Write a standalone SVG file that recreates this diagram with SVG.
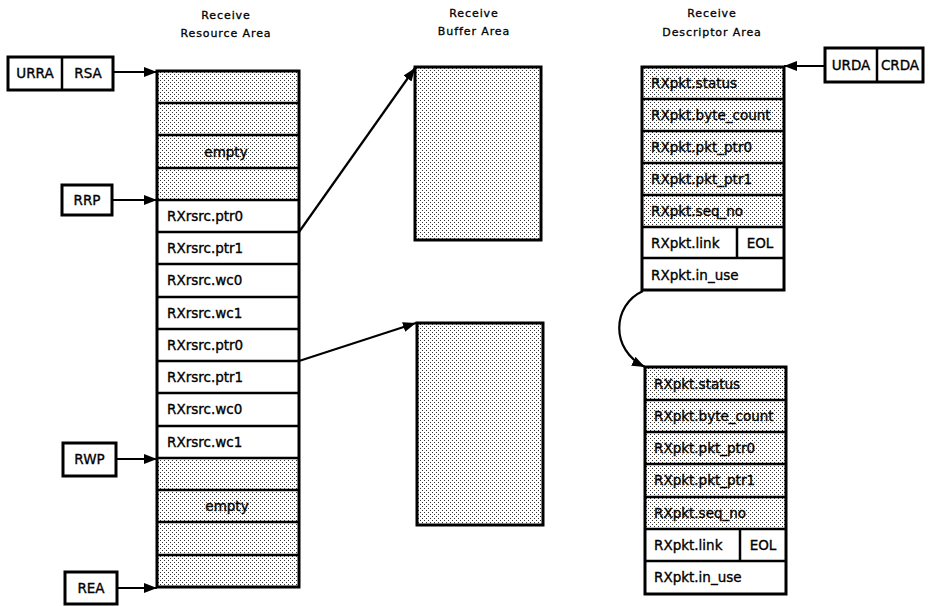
<svg xmlns="http://www.w3.org/2000/svg" width="931" height="606" viewBox="0 0 931 606">
<defs>
<pattern id="dots" width="4" height="4" patternUnits="userSpaceOnUse">
<rect width="4" height="4" fill="#fff"/>
<rect x="0" y="0" width="1" height="1" fill="#333"/>
<rect x="2" y="2" width="1" height="1" fill="#333"/>
</pattern>
<marker id="ah" markerWidth="13" markerHeight="10" refX="13" refY="5" orient="auto" markerUnits="userSpaceOnUse">
<path d="M0,0 L13,5 L0,10 z" fill="#000"/>
</marker>
</defs>
<style>
.box{fill:none;stroke:#000;stroke-width:3}
.div{stroke:#000;stroke-width:2.5}
.sh{fill:url(#dots)}
.wh{fill:#fff}
.lbl{font-family:"DejaVu Sans","Liberation Sans",sans-serif;font-size:13.5px;fill:#000;stroke:#000;stroke-width:0.35}
.mid{text-anchor:middle}
.hd{font-family:"DejaVu Sans","Liberation Sans",sans-serif;font-size:11px;letter-spacing:0.9px;fill:#000;stroke:#000;stroke-width:0.3;text-anchor:middle}
.con{fill:none;stroke:#000;stroke-width:2.2;marker-end:url(#ah)}
.reg{fill:#fff;stroke:#000;stroke-width:3}
</style>
<rect width="931" height="606" fill="#fff"/>

<g id="headings">
<text class="hd" x="226" y="19">Receive</text>
<text class="hd" x="226" y="37">Resource Area</text>
<text class="hd" x="474" y="17">Receive</text>
<text class="hd" x="474" y="35">Buffer Area</text>
<text class="hd" x="712" y="17">Receive</text>
<text class="hd" x="712" y="36">Descriptor Area</text>
</g>

<g id="urra-rsa">
<rect class="reg" x="8" y="57" width="105" height="33"/>
<line class="div" x1="62" y1="57" x2="62" y2="90"/>
<text class="lbl mid" x="35" y="78">URRA</text>
<text class="lbl mid" x="88" y="78">RSA</text>
</g>
<g id="rrp">
<rect class="reg" x="62" y="185" width="50" height="30"/>
<text class="lbl mid" x="87" y="205">RRP</text>
</g>
<g id="rwp">
<rect class="reg" x="63" y="443" width="53" height="33"/>
<text class="lbl mid" x="89.5" y="464">RWP</text>
</g>
<g id="rea">
<rect class="reg" x="65" y="572" width="52" height="32"/>
<text class="lbl mid" x="91" y="593">REA</text>
</g>

<g id="resource-area">
<rect class="sh" x="157" y="71" width="142" height="129"/>
<rect class="wh" x="157" y="200" width="142" height="258"/>
<rect class="sh" x="157" y="458" width="142" height="129"/>
<line class="div" x1="157" y1="103" x2="299" y2="103"/>
<line class="div" x1="157" y1="135" x2="299" y2="135"/>
<line class="div" x1="157" y1="168" x2="299" y2="168"/>
<line class="div" x1="157" y1="200" x2="299" y2="200"/>
<line class="div" x1="157" y1="232" x2="299" y2="232"/>
<line class="div" x1="157" y1="264" x2="299" y2="264"/>
<line class="div" x1="157" y1="297" x2="299" y2="297"/>
<line class="div" x1="157" y1="329" x2="299" y2="329"/>
<line class="div" x1="157" y1="361" x2="299" y2="361"/>
<line class="div" x1="157" y1="393" x2="299" y2="393"/>
<line class="div" x1="157" y1="426" x2="299" y2="426"/>
<line class="div" x1="157" y1="458" x2="299" y2="458"/>
<line class="div" x1="157" y1="490" x2="299" y2="490"/>
<line class="div" x1="157" y1="522" x2="299" y2="522"/>
<line class="div" x1="157" y1="555" x2="299" y2="555"/>
<rect class="box" x="157" y="71" width="142" height="516"/>
<text class="lbl mid" x="226" y="157">empty</text>
<text class="lbl" x="167" y="221">RXrsrc.ptr0</text>
<text class="lbl" x="167" y="253">RXrsrc.ptr1</text>
<text class="lbl" x="167" y="285">RXrsrc.wc0</text>
<text class="lbl" x="167" y="318">RXrsrc.wc1</text>
<text class="lbl" x="167" y="350">RXrsrc.ptr0</text>
<text class="lbl" x="167" y="382">RXrsrc.ptr1</text>
<text class="lbl" x="167" y="414">RXrsrc.wc0</text>
<text class="lbl" x="167" y="447">RXrsrc.wc1</text>
<text class="lbl mid" x="227" y="511">empty</text>
</g>

<g id="buffer1">
<rect class="box" x="415" y="67" width="126" height="173" style="fill:url(#dots)"/>
</g>
<g id="buffer2">
<rect class="box" x="417" y="323" width="126" height="202" style="fill:url(#dots)"/>
</g>

<g id="descriptor1">
<rect class="sh" x="642" y="67" width="142" height="160"/>
<rect class="wh" x="642" y="227" width="142" height="63"/>
<line class="div" x1="642" y1="99" x2="784" y2="99"/>
<line class="div" x1="642" y1="131" x2="784" y2="131"/>
<line class="div" x1="642" y1="163" x2="784" y2="163"/>
<line class="div" x1="642" y1="195" x2="784" y2="195"/>
<line class="div" x1="642" y1="227" x2="784" y2="227"/>
<line class="div" x1="642" y1="258" x2="784" y2="258"/>
<line class="div" x1="737" y1="227" x2="737" y2="258"/>
<rect class="box" x="642" y="67" width="142" height="223"/>
<text class="lbl" x="651" y="88">RXpkt.status</text>
<text class="lbl" x="651" y="120">RXpkt.byte_count</text>
<text class="lbl" x="651" y="152">RXpkt.pkt_ptr0</text>
<text class="lbl" x="651" y="184">RXpkt.pkt_ptr1</text>
<text class="lbl" x="651" y="216">RXpkt.seq_no</text>
<text class="lbl" x="651" y="248">RXpkt.link</text>
<text class="lbl mid" x="760" y="248">EOL</text>
<text class="lbl" x="651" y="280">RXpkt.in_use</text>
</g>

<g id="urda-crda">
<rect class="reg" x="825" y="48" width="98" height="34"/>
<line class="div" x1="877" y1="48" x2="877" y2="82"/>
<text class="lbl mid" x="851" y="70">URDA</text>
<text class="lbl mid" x="900" y="70">CRDA</text>
</g>

<g id="descriptor2">
<rect class="sh" x="645" y="367" width="141" height="162"/>
<rect class="wh" x="645" y="529" width="141" height="65"/>
<line class="div" x1="645" y1="400" x2="786" y2="400"/>
<line class="div" x1="645" y1="432" x2="786" y2="432"/>
<line class="div" x1="645" y1="464" x2="786" y2="464"/>
<line class="div" x1="645" y1="497" x2="786" y2="497"/>
<line class="div" x1="645" y1="529" x2="786" y2="529"/>
<line class="div" x1="645" y1="561" x2="786" y2="561"/>
<line class="div" x1="740" y1="529" x2="740" y2="561"/>
<rect class="box" x="645" y="367" width="141" height="227"/>
<text class="lbl" x="654" y="389">RXpkt.status</text>
<text class="lbl" x="654" y="421">RXpkt.byte_count</text>
<text class="lbl" x="654" y="453">RXpkt.pkt_ptr0</text>
<text class="lbl" x="654" y="485">RXpkt.pkt_ptr1</text>
<text class="lbl" x="654" y="518">RXpkt.seq_no</text>
<text class="lbl" x="654" y="550">RXpkt.link</text>
<text class="lbl mid" x="763" y="550">EOL</text>
<text class="lbl" x="654" y="582">RXpkt.in_use</text>
</g>

<g id="connectors">
<line class="con" x1="113" y1="72" x2="157" y2="72"/>
<line class="con" x1="112" y1="200" x2="157" y2="200"/>
<line class="con" x1="116" y1="459" x2="157" y2="459"/>
<line class="con" x1="117" y1="588" x2="157" y2="588"/>
<line class="con" x1="299" y1="232" x2="415" y2="68"/>
<line class="con" x1="299" y1="361" x2="416" y2="323"/>
<line class="con" x1="825" y1="66" x2="784" y2="66"/>
<path class="con" d="M643 291 C612 305 610 350 645 367"/>
</g>
</svg>
